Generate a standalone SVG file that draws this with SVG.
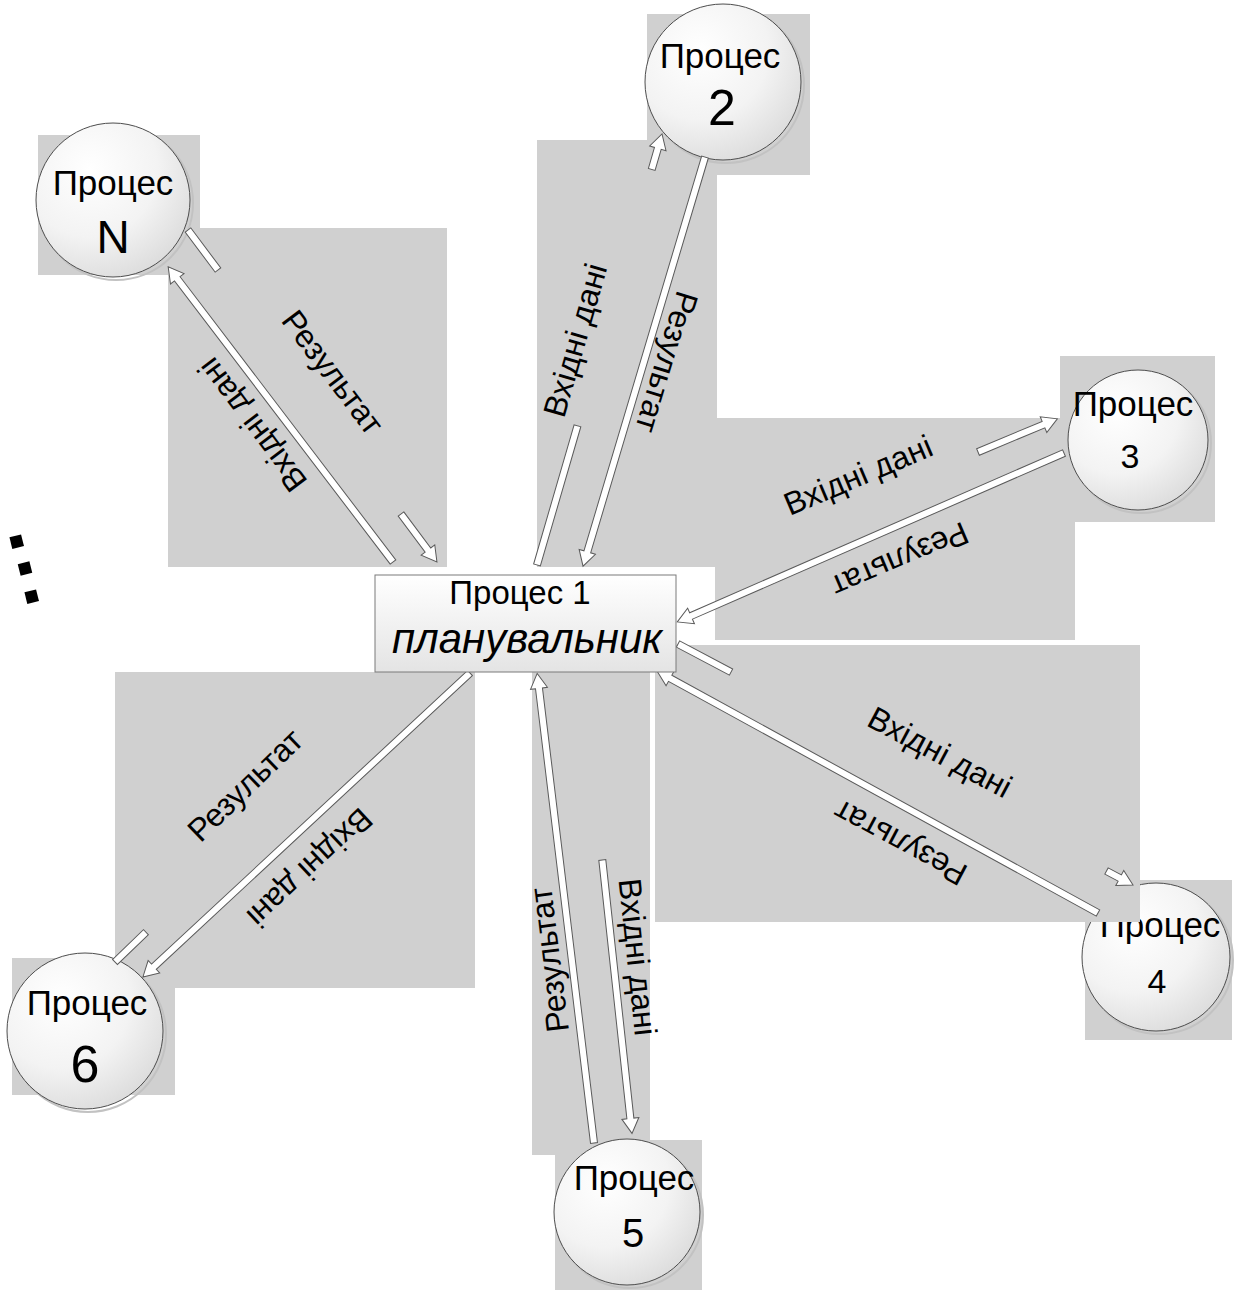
<svg xmlns="http://www.w3.org/2000/svg" width="1237" height="1292" viewBox="0 0 1237 1292">
<defs>
  <radialGradient id="ballFill" cx="0.35" cy="0.3" r="0.8">
    <stop offset="0" stop-color="#ffffff"/>
    <stop offset="0.55" stop-color="#f3f3f3"/>
    <stop offset="1" stop-color="#d9d9d9"/>
  </radialGradient>
  <linearGradient id="boxFill" x1="0" y1="0" x2="0" y2="1">
    <stop offset="0" stop-color="#ffffff"/>
    <stop offset="1" stop-color="#e4e4e4"/>
  </linearGradient>
</defs>
<style>
  .pane{fill:#d0d0d0}
  .ball{fill:url(#ballFill);stroke:#4d4d4d;stroke-width:1}
  .ballShade{fill:none;stroke:#c2c2c2;stroke-width:2}
  .arrow{fill:#ffffff;stroke:#5a5a5a;stroke-width:1;stroke-linejoin:miter}
  .t{font-family:"Liberation Sans",Arial,sans-serif;fill:#000000;text-anchor:middle}
  .lbl{font-size:32px}
  .nm{font-size:35px}
</style>

<!-- grey panes behind the process circles -->
<g id="panes-circles">
  <rect class="pane" x="38" y="135" width="162" height="140"/>
  <rect class="pane" x="647" y="14" width="163" height="161"/>
  <rect class="pane" x="1060" y="356" width="155" height="166"/>
  <rect class="pane" x="1085" y="880" width="147" height="160"/>
  <rect class="pane" x="555" y="1140" width="147" height="150"/>
  <rect class="pane" x="12" y="958" width="163" height="137"/>
</g>

<!-- process 4 sits under its label pane -->
<g id="node-p4">
  <circle class="ballShade" cx="1159" cy="960" r="74"/>
  <circle class="ball" cx="1156" cy="957" r="74"/>
  <text class="t nm" x="1160" y="937">Процес</text>
  <text class="t" x="1157" y="993" font-size="34">4</text>
</g>

<!-- grey label panes -->
<g id="panes-labels">
  <rect class="pane" x="168" y="228" width="279" height="339"/>
  <rect class="pane" x="537" y="140" width="143" height="427"/>
  <rect class="pane" x="617" y="173" width="100" height="394"/>
  <rect class="pane" x="715" y="418" width="360" height="222"/>
  <rect class="pane" x="655" y="645" width="485" height="277"/>
  <rect class="pane" x="532" y="672" width="75" height="483"/>
  <rect class="pane" x="580" y="672" width="70" height="471"/>
  <rect class="pane" x="115" y="672" width="360" height="316"/>
</g>

<g id="node-pn">
  <circle class="ballShade" cx="116" cy="203" r="77"/>
  <circle class="ball" cx="113" cy="200" r="77"/>
  <text class="t nm" x="113" y="195">Процес</text>
  <text class="t" x="113" y="253" font-size="46">N</text>
</g>
<g id="node-p2">
  <circle class="ballShade" cx="726" cy="85" r="78"/>
  <circle class="ball" cx="723" cy="82" r="78"/>
  <text class="t nm" x="720" y="68">Процес</text>
  <text class="t" x="722" y="125" font-size="50">2</text>
</g>
<g id="node-p3">
  <circle class="ballShade" cx="1141" cy="443" r="70"/>
  <circle class="ball" cx="1138" cy="440" r="70"/>
  <text class="t nm" x="1133" y="416">Процес</text>
  <text class="t" x="1130" y="468" font-size="34">3</text>
</g>
<g id="node-p5">
  <circle class="ballShade" cx="630" cy="1215" r="73"/>
  <circle class="ball" cx="627" cy="1212" r="73"/>
  <text class="t nm" x="634" y="1190">Процес</text>
  <text class="t" x="633" y="1247" font-size="40">5</text>
</g>
<g id="node-p6">
  <circle class="ballShade" cx="88" cy="1034" r="78"/>
  <circle class="ball" cx="85" cy="1031" r="78"/>
  <text class="t nm" x="87" y="1015">Процес</text>
  <text class="t" x="85" y="1082" font-size="52">6</text>
</g>

<!-- hollow block arrows; pieces hidden by the panes are left out -->
<g id="connectors">
  <!-- Process N -->
  <path class="arrow" transform="translate(393 562) rotate(-127.3)" d="M0,-3.5 H356 V-8.5 L371,0 L356,8.5 V3.5 H0 Z"/>
  <path class="arrow" transform="translate(188 230) rotate(53.2)" d="M0,-3.5 H50 V3.5 H0 Z"/>
  <path class="arrow" transform="translate(401 514) rotate(53.2)" d="M0,-3.5 H45 V-8.5 L60,0 L45,8.5 V3.5 H0 Z"/>
  <!-- Process 2 -->
  <path class="arrow" transform="translate(537 565) rotate(-73.8)" d="M0,-3.5 H145 V3.5 H0 Z"/>
  <path class="arrow" transform="translate(651.7 169.5) rotate(-73.8)" d="M0,-3.5 H22 V-8.5 L37,0 L22,8.5 V3.5 H0 Z"/>
  <path class="arrow" transform="translate(705 157) rotate(106.6)" d="M0,-3.5 H412 V-8.5 L427,0 L412,8.5 V3.5 H0 Z"/>
  <!-- Process 3 -->
  <path class="arrow" transform="translate(978 452) rotate(-22.7)" d="M0,-3.5 H71 V-8.5 L86,0 L71,8.5 V3.5 H0 Z"/>
  <path class="arrow" transform="translate(1064 453) rotate(156.4)" d="M0,-3.5 H407 V-8.5 L422,0 L407,8.5 V3.5 H0 Z"/>
  <!-- Process 4 -->
  <path class="arrow" transform="translate(678 644) rotate(27.9)" d="M0,-3.5 H60 V3.5 H0 Z"/>
  <path class="arrow" transform="translate(1106.5 871) rotate(27.9)" d="M0,-3.5 H15 V-8.5 L30,0 L15,8.5 V3.5 H0 Z"/>
  <path class="arrow" transform="translate(1098 913) rotate(-151.25)" d="M0,-3.5 H488 V-8.5 L503,0 L488,8.5 V3.5 H0 Z"/>
  <!-- Process 5 -->
  <path class="arrow" transform="translate(594 1143) rotate(-96.9)" d="M0,-3.5 H458 V-8.5 L473,0 L458,8.5 V3.5 H0 Z"/>
  <path class="arrow" transform="translate(602.3 860) rotate(83.8)" d="M0,-3.5 H260 V-8.5 L275,0 L260,8.5 V3.5 H0 Z"/>
  <!-- Process 6 -->
  <path class="arrow" transform="translate(470 673) rotate(137.1)" d="M0,-3.5 H431.5 V-8.5 L446.5,0 L431.5,8.5 V3.5 H0 Z"/>
  <path class="arrow" transform="translate(115 962) rotate(-44)" d="M0,-3.5 H43 V3.5 H0 Z"/>
</g>

<!-- connector labels -->
<g id="labels" class="t lbl">
  <text transform="translate(333 372) rotate(53)" dy="0.35em">Результат</text>
  <text transform="translate(252 425) rotate(-127)" dy="0.35em">Вхідні дані</text>
  <text transform="translate(575 340) rotate(-74)" dy="0.35em">Вхідні дані</text>
  <text transform="translate(667 362) rotate(107)" dy="0.35em">Результат</text>
  <text transform="translate(858 475) rotate(-23)" dy="0.35em">Вхідні дані</text>
  <text transform="translate(900 560) rotate(157)" dy="0.35em">Результат</text>
  <text transform="translate(940 752) rotate(28)" dy="0.35em">Вхідні дані</text>
  <text transform="translate(900 843) rotate(208)" dy="0.35em">Результат</text>
  <text transform="translate(549 960) rotate(-97)" dy="0.35em">Результат</text>
  <text transform="translate(638 957) rotate(84)" dy="0.35em">Вхідні дані</text>
  <text transform="translate(245 785) rotate(-44)" dy="0.35em">Результат</text>
  <text transform="translate(310 868) rotate(137)" dy="0.35em">Вхідні дані</text>
</g>

<!-- central scheduler -->
<g id="node-p1">
  <rect x="375" y="575" width="301" height="97" fill="url(#boxFill)" stroke="#7a7a7a" stroke-width="1"/>
  <text class="t" x="520" y="604" font-size="33">Процес 1</text>
  <text class="t" x="527" y="653" font-size="42" font-style="italic">планувальник</text>
</g>

<!-- continuation marks -->
<g id="ellipsis" fill="#000000">
  <rect x="-6" y="-6" width="12" height="12" transform="translate(16.7 541.7) rotate(-14)"/>
  <rect x="-6" y="-6" width="12" height="12" transform="translate(25 568.5) rotate(-14)"/>
  <rect x="-6" y="-6" width="12" height="12" transform="translate(31.7 596.7) rotate(-14)"/>
</g>
</svg>
